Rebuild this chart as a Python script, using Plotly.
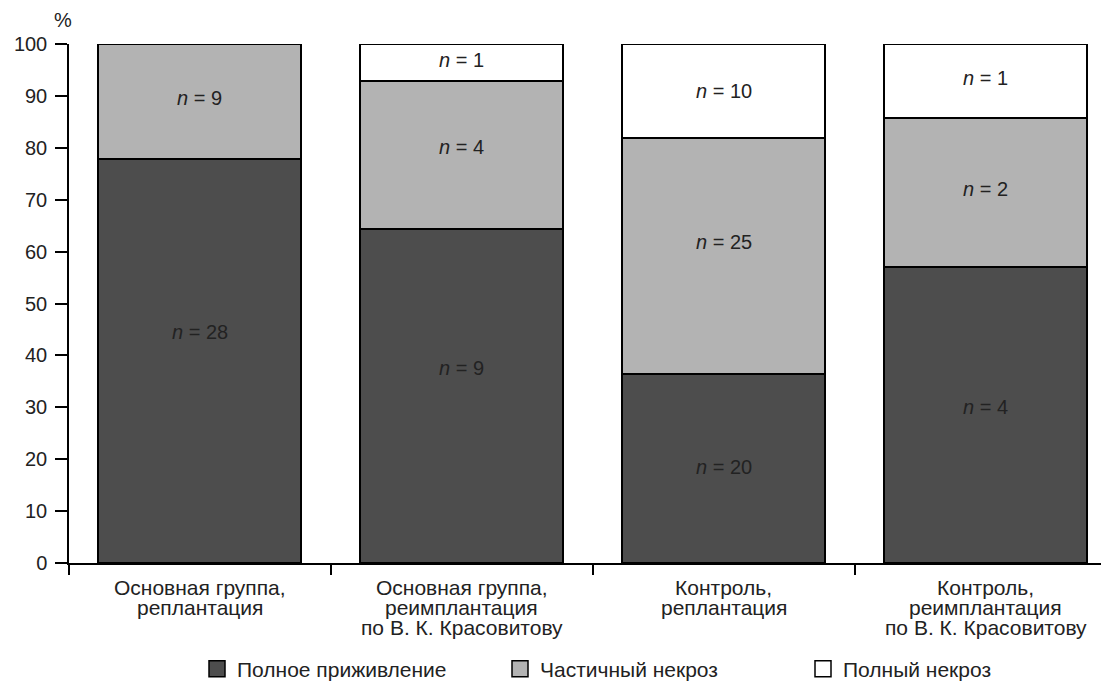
import plotly.graph_objects as go

# ---- data ----
categories = [
    "Основная группа,<br>реплантация",
    "Основная группа,<br>реимплантация<br>по В. К. Красовитову",
    "Контроль,<br>реплантация",
    "Контроль,<br>реимплантация<br>по В. К. Красовитову",
]
series_names = ["Полное приживление", "Частичный некроз", "Полный некроз"]
full_survival = [77.8, 64.3, 36.4, 57.1]     # %
partial_necrosis = [22.2, 28.6, 45.4, 28.6]  # %
full_necrosis = [0.0, 7.1, 18.2, 14.3]       # %
n_full_survival = [28, 9, 20, 4]
n_partial_necrosis = [9, 4, 25, 2]
n_full_necrosis = [None, 1, 10, 1]
y_ticks = [0, 10, 20, 30, 40, 50, 60, 70, 80, 90, 100]

# label heights (in % units) where the n= captions sit
lab_full_survival = [44.5, 37.5, 18.5, 30.0]
lab_partial_necrosis = [89.6, 80.2, 61.8, 72.0]
lab_full_necrosis = [None, 96.9, 91.0, 93.5]

# ---- styles ----
colors = ["#4d4d4d", "#b3b3b3", "#ffffff"]
FONT = "Liberation Sans, Arial, Helvetica, sans-serif"
TXT = "#222222"

# page has an 8px body margin: size the figure so it fills the window exactly
OFF = 8
W, H = 1109 - OFF, 684 - OFF
ML, MR, MT, MB = 69 - OFF, 0, 44 - OFF, 121
pw, ph = W - ML - MR, H - MT - MB

x = list(range(len(categories)))
fig = go.Figure()
for vals, col, name in zip([full_survival, partial_necrosis, full_necrosis], colors, series_names):
    fig.add_trace(go.Bar(
        x=x, y=vals, width=0.775, name=name, showlegend=False,
        marker=dict(color=col, line=dict(color="black", width=2)),
        hoverinfo="skip",
    ))
# legend entries (16px squares)
for col, name in zip(colors, series_names):
    fig.add_trace(go.Scatter(
        x=[None], y=[None], mode="markers", name=name,
        marker=dict(symbol="square", size=16, color=col, line=dict(color="black", width=1.5)),
    ))

annotations = []
for ns, ys in [(n_full_survival, lab_full_survival),
               (n_partial_necrosis, lab_partial_necrosis),
               (n_full_necrosis, lab_full_necrosis)]:
    for i, (n, yy) in enumerate(zip(ns, ys)):
        if n is None:
            continue
        annotations.append(dict(
            x=i, y=yy, xref="x", yref="y", text=f"<i>n</i> = {n}", showarrow=False,
            font=dict(family=FONT, size=20, color=TXT),
        ))
# category labels, one annotation per line for tight leading
for i, cat in enumerate(categories):
    for k, line in enumerate(cat.split("<br>")):
        annotations.append(dict(
            x=i, y=0, xref="x", yref="y", text=line, showarrow=False,
            yanchor="middle", yshift=-24 - 20 * k,
            font=dict(family=FONT, size=21, color=TXT),
        ))
# "%" unit label above the y axis
annotations.append(dict(
    x=(63 - OFF - ML) / pw, y=(H - MB - (20 - OFF)) / ph, xref="paper", yref="paper",
    text="%", showarrow=False, xanchor="center", yanchor="middle",
    font=dict(family=FONT, size=20, color=TXT),
))

fig.update_layout(
    width=W, height=H,
    barmode="stack", bargap=0,
    plot_bgcolor="white", paper_bgcolor="white",
    margin=dict(l=ML, r=MR, t=MT, b=MB, autoexpand=False),
    font=dict(family=FONT, size=20, color=TXT),
    annotations=annotations,
    legend=dict(
        orientation="h", traceorder="normal",
        x=(197 - OFF - ML) / pw, xanchor="left",
        y=(H - MB - (669 - OFF)) / ph, yanchor="middle",
        font=dict(family=FONT, size=21, color=TXT),
        itemsizing="trace", entrywidth=258, entrywidthmode="pixels",
        bgcolor="rgba(0,0,0,0)",
    ),
    xaxis=dict(
        range=[-0.5, 3.47], showgrid=False, zeroline=False,
        showline=True, linecolor="black", linewidth=2,
        tickvals=[-0.5, 0.5, 1.5, 2.5], ticktext=["", "", "", ""],
        ticks="outside", ticklen=10, tickwidth=1.5, tickcolor="black",
        automargin=False, fixedrange=True,
    ),
    yaxis=dict(
        range=[0, 100], showgrid=False, zeroline=False,
        showline=True, linecolor="black", linewidth=1.5,
        tickvals=y_ticks, ticks="outside", ticklen=12, tickwidth=1.5, tickcolor="black",
        tickfont=dict(family=FONT, size=20, color=TXT),
        ticklabelstandoff=4, automargin=False, fixedrange=True,
    ),
)

fig.write_html("out.html")
